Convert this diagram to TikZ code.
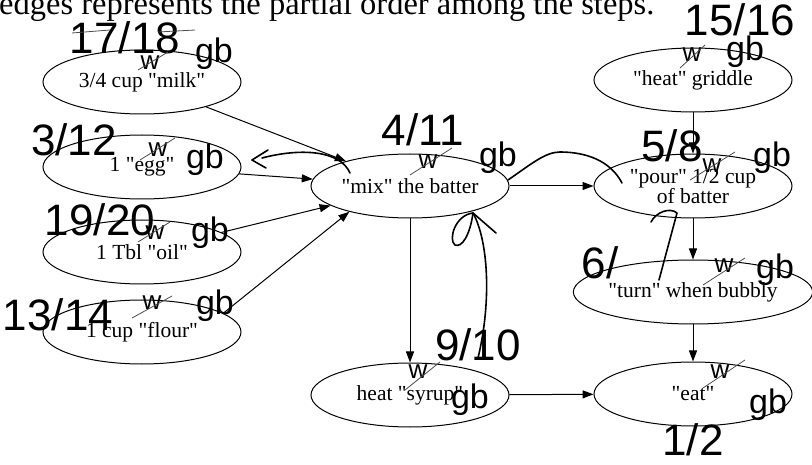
\documentclass[tikz,border=0pt]{standalone}
\usepackage{fontspec}
\setmainfont{Liberation Serif}[Ligatures=TeXOff]
\newfontfamily\hand{Liberation Sans}
\usetikzlibrary{shapes.geometric,arrows.meta}
\begin{document}
\begin{tikzpicture}[x=1pt,y=-1pt,
  stepnode/.style={draw, ellipse, line width=1pt, minimum width=198pt, minimum height=64pt,
    inner sep=0pt, align=center, font=\fontsize{21.5}{20}\selectfont},
  flow/.style={line width=1pt, -{Triangle[length=11pt,width=8pt]}},
  hnum/.style={font=\hand\fontsize{44}{44}\selectfont, inner sep=0pt},
  hlet/.style={font=\hand\fontsize{34}{34}\selectfont, inner sep=0pt},
  hsm/.style={font=\hand\fontsize{26}{26}\selectfont, inner sep=0pt},
  pen/.style={line width=1.6pt, line cap=round, line join=round},
  strike/.style={line width=0.8pt, black!70}
]
\useasboundingbox (0,0) rectangle (812,465);
\clip (0,0) rectangle (812,465);

% caption line (cut at the top)
\node[anchor=base west, inner sep=0pt, font=\fontsize{32.5}{32}\selectfont] (title) at (-1,15)
  {edges represents the partial order among the steps.};

% steps
\node[stepnode] (milk)    at (142,82)  {3/4 cup "milk"};
\node[stepnode] (egg)     at (142,167) {1 "egg"};
\node[stepnode] (oil)     at (142,252) {1 Tbl "oil"};
\node[stepnode] (flour)   at (142,332) {1 cup "flour"};
\node[stepnode] (mix)     at (410,186) {"mix" the batter};
\node[stepnode] (syrup)   at (410,395) {heat "syrup"};
\node[stepnode] (griddle) at (693,80)  {"heat" griddle};
\node[stepnode] (pour)    at (693,186) {"pour" 1/2 cup\\of batter};
\node[stepnode] (turn)    at (693,292) {"turn" when bubbly};
\node[stepnode] (eat)     at (693,394) {"eat"};

% partial order
\draw[flow] (milk) -- (mix);
\draw[flow] (egg) -- (mix);
\draw[flow] (oil) -- (mix);
\draw[flow] (flour.13) -- (mix.203);
\draw[flow] (mix) -- (syrup);
\draw[flow] (mix) -- (pour);
\draw[flow] (griddle) -- (pour);
\draw[flow] (pour) -- (turn);
\draw[flow] (turn) -- (eat);
\draw[flow] (syrup) -- (eat);

% handwritten annotations
\node[hnum] (n1) at (125,38)  {17/18};
\node[hsm]  (w1) at (150,63)  {w};
\node[hlet] (g1) at (214,54)  {gb};

\node[hnum] (n2) at (74,140)  {3/12};
\node[hsm]  (w2) at (158,150) {w};
\node[hlet] (g2) at (205,160) {gb};

\node[hnum] (n3) at (100,220) {19/20};
\node[hsm]  (w3) at (155,233) {w};
\node[hlet] (g3) at (210,233) {gb};

\node[hnum] (n4) at (58,315)  {13/14};
\node[hsm]  (w4) at (152,303) {w};
\node[hlet] (g4) at (215,306) {gb};

\node[hnum] (n5) at (423,130) {4/11};
\node[hsm]  (w5) at (428,162) {w};
\node[hlet] (g5) at (498,158) {gb};

\node[hnum] (n6) at (740,20)  {15/16};
\node[hsm]  (w6) at (692,55)  {w};
\node[hlet] (g6) at (745,52)  {gb};

\node[hnum] (n7) at (672,146) {5/8};
\node[hsm]  (w7) at (712,166) {w};
\node[hlet] (g7) at (772,158) {gb};

\node[hnum] (n8) at (600,263) {6/};
\node[hsm]  (w8) at (724,266) {w};
\node[hlet] (g8) at (775,270) {gb};

\node[hnum] (n9) at (478,345) {9/10};
\node[hsm]  (w9) at (418,372) {w};
\node[hlet] (g9) at (470,400) {gb};

\node[hsm]  (w10) at (720,372) {w};
\node[hlet] (g10) at (768,405) {gb};
\node[hnum] (n10) at (693,440) {1/2};

% hand-drawn strokes
\draw[pen] (350,173) .. controls (340,150) and (300,148) .. (262,158);
\draw[pen] (268,150) -- (252,160) -- (266,168);
\draw[pen] (508,180) .. controls (530,165) and (545,152) .. (560,152)
  .. controls (585,152) and (610,160) .. (622,183);
\draw[pen] (478,358) .. controls (492,300) and (488,240) .. (473,213);
\draw[pen] (473,213) -- (496,233);
\draw[pen] (473,213) .. controls (455,215) and (448,240) .. (455,245)
  .. controls (462,248) and (470,235) .. (473,213);
\draw[pen] (651,222) .. controls (656,212) and (670,207) .. (677,213) -- (659,280);

% strike-outs
\draw[strike] (72,33) -- (110,30);
\draw[strike] (158,32) -- (195,30);
\draw[strike] (138,70) -- (168,52);
\draw[strike] (140,160) -- (175,138);
\draw[strike] (138,242) -- (170,222);
\draw[strike] (132,318) -- (172,296);
\draw[strike] (410,175) -- (452,148);
\draw[strike] (680,68) -- (705,45);
\draw[strike] (690,180) -- (735,152);
\draw[strike] (703,285) -- (745,258);
\draw[strike] (405,390) -- (440,362);
\draw[strike] (703,388) -- (745,360);
\end{tikzpicture}
\end{document}
